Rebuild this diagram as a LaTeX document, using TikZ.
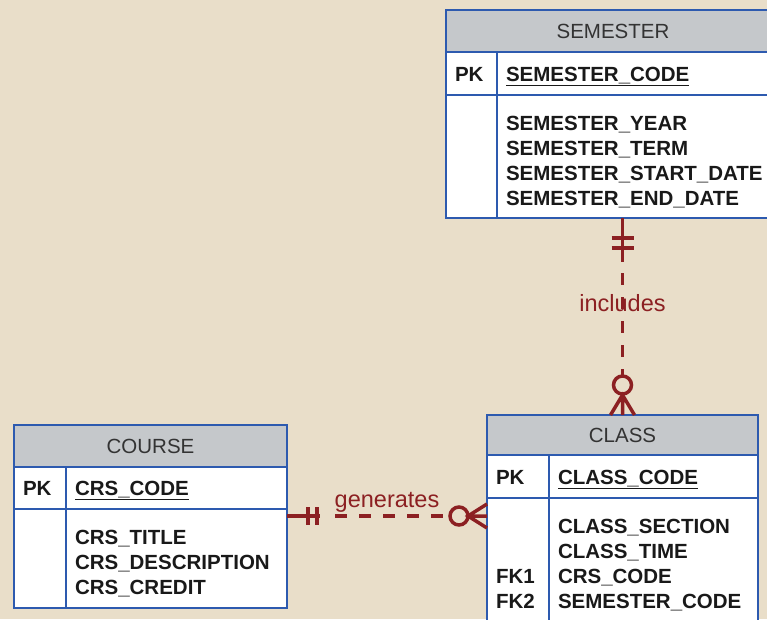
\documentclass[tikz,border=0pt]{standalone}
\usepackage{fontspec}
\setmainfont{Liberation Sans}
\usepackage{xcolor}
\usepackage{tikz}
\usetikzlibrary{positioning, calc}
\definecolor{erdbg}{RGB}{233,222,201}
\definecolor{erdgray}{RGB}{197,200,203}
\definecolor{erdblue}{RGB}{45,90,175}
\definecolor{erdred}{RGB}{140,32,34}
\newcommand{\rowtop}{\rule{0pt}{27pt}}
\newcommand{\rowbot}{\rule[-5pt]{0pt}{5pt}}
\tikzset{
  entcell/.style={draw=erdblue, line width=2.4pt, fill=white, anchor=north west,
                  inner xsep=9pt, inner ysep=0pt, outer sep=0pt, align=left,
                  font=\bfseries\fontsize{20.5}{25}\selectfont, text=black!90},
  enthead/.style={entcell, fill=erdgray, align=center,
                  font=\fontsize{20.5}{25}\selectfont, text=black!80},
  keyrow/.style={entcell, text height=15pt, text depth=0pt},
  rel/.style={draw=erdred, line width=3.5pt},
  reldash/.style={rel, dash pattern=on 12pt off 12pt},
  rellabel/.style={text=erdred, font=\fontsize{23.5}{28}\selectfont}
}
\begin{document}
\begin{tikzpicture}[x=1pt, y=-1pt]
  \path[use as bounding box, fill=erdbg] (0,0) rectangle (767,619);
  \clip (0,0) rectangle (767,619);

  % SEMESTER entity
  \node[enthead, minimum width=334pt, minimum height=42pt] (semhead) at (446,10) {SEMESTER};
  \node[keyrow, text width=33pt, minimum height=43pt] (sempk) at (semhead.south west) {PK};
  \node[keyrow, text width=265pt, minimum height=43pt] (semkey) at (sempk.north east)
    {\underline{SEMESTER\_CODE}};
  \node[entcell, text width=33pt, minimum height=123pt] (semnk) at (sempk.south west) {};
  \node[entcell, text width=265pt, minimum height=123pt] (semattr) at (semkey.south west)
    {\rowtop SEMESTER\_YEAR\\ SEMESTER\_TERM\\ SEMESTER\_START\_DATE\\ SEMESTER\_END\_DATE\rowbot};

  % CLASS entity
  \node[enthead, minimum width=271pt, minimum height=40pt] (clshead) at (487,415) {CLASS};
  \node[keyrow, text width=44pt, minimum height=43pt] (clspk) at (clshead.south west) {PK};
  \node[keyrow, text width=191pt, minimum height=43pt] (clskey) at (clspk.north east)
    {\underline{CLASS\_CODE}};
  \node[entcell, text width=44pt, minimum height=123pt] (clsfk) at (clspk.south west)
    {\rowtop\\ \mbox{}\\ FK1\\ FK2\rowbot};
  \node[entcell, text width=191pt, minimum height=123pt] (clsattr) at (clskey.south west)
    {\rowtop CLASS\_SECTION\\ CLASS\_TIME\\ CRS\_CODE\\ SEMESTER\_CODE\rowbot};

  % COURSE entity
  \node[enthead, minimum width=273pt, minimum height=42pt] (crshead) at (14,425) {COURSE};
  \node[keyrow, text width=34pt, minimum height=42pt] (crspk) at (crshead.south west) {PK};
  \node[keyrow, text width=203pt, minimum height=42pt] (crskey) at (crspk.north east)
    {\underline{CRS\_CODE}};
  \node[entcell, text width=34pt, minimum height=99pt] (crsnk) at (crspk.south west) {};
  \node[entcell, text width=203pt, minimum height=99pt] (crsattr) at (crskey.south west)
    {\rowtop CRS\_TITLE\\ CRS\_DESCRIPTION\\ CRS\_CREDIT\rowbot};

  % includes: one SEMESTER, many CLASS
  \coordinate (incA) at (semattr.south -| clshead.north);
  \coordinate (incB) at (clshead.north);
  \node[rellabel] (inclbl) at ($(incA)!0.43!(incB)$) {includes};
  \draw[rel] (incA) -- ++(0,44);
  \draw[rel] ([shift={(-11,20)}]incA) -- ++(22,0);
  \draw[rel] ([shift={(-11,30)}]incA) -- ++(22,0);
  \draw[reldash] ([shift={(0,55)}]incA) -- ([shift={(0,-39)}]incB);
  \draw[rel] ([shift={(0,-30)}]incB) circle[radius=9pt];
  \draw[rel] ([shift={(-12,0)}]incB) -- ([shift={(0,-20)}]incB) -- ([shift={(12,0)}]incB)
    ([shift={(0,-21)}]incB) -- (incB);

  % generates: one COURSE, many CLASS
  \coordinate (genA) at ([shift={(0,7)}]crsattr.north east);
  \coordinate (genB) at (genA -| clsfk.west);
  \node[rellabel] (genlbl) at ($(genA)!0.5!(genB)+(0,-14)$) {generates};
  \draw[rel] (genA) -- ++(33,0);
  \draw[rel] ([shift={(21,-9)}]genA) -- ++(0,18);
  \draw[rel] ([shift={(30,-9)}]genA) -- ++(0,18);
  \draw[reldash] ([shift={(48,0)}]genA) -- ([shift={(-37,0)}]genB);
  \draw[rel] ([shift={(-28,0)}]genB) circle[radius=9pt];
  \draw[rel] ([shift={(0,-12)}]genB) -- ([shift={(-19,0)}]genB) -- ([shift={(0,12)}]genB)
    ([shift={(-20,0)}]genB) -- (genB);
\end{tikzpicture}
\end{document}
